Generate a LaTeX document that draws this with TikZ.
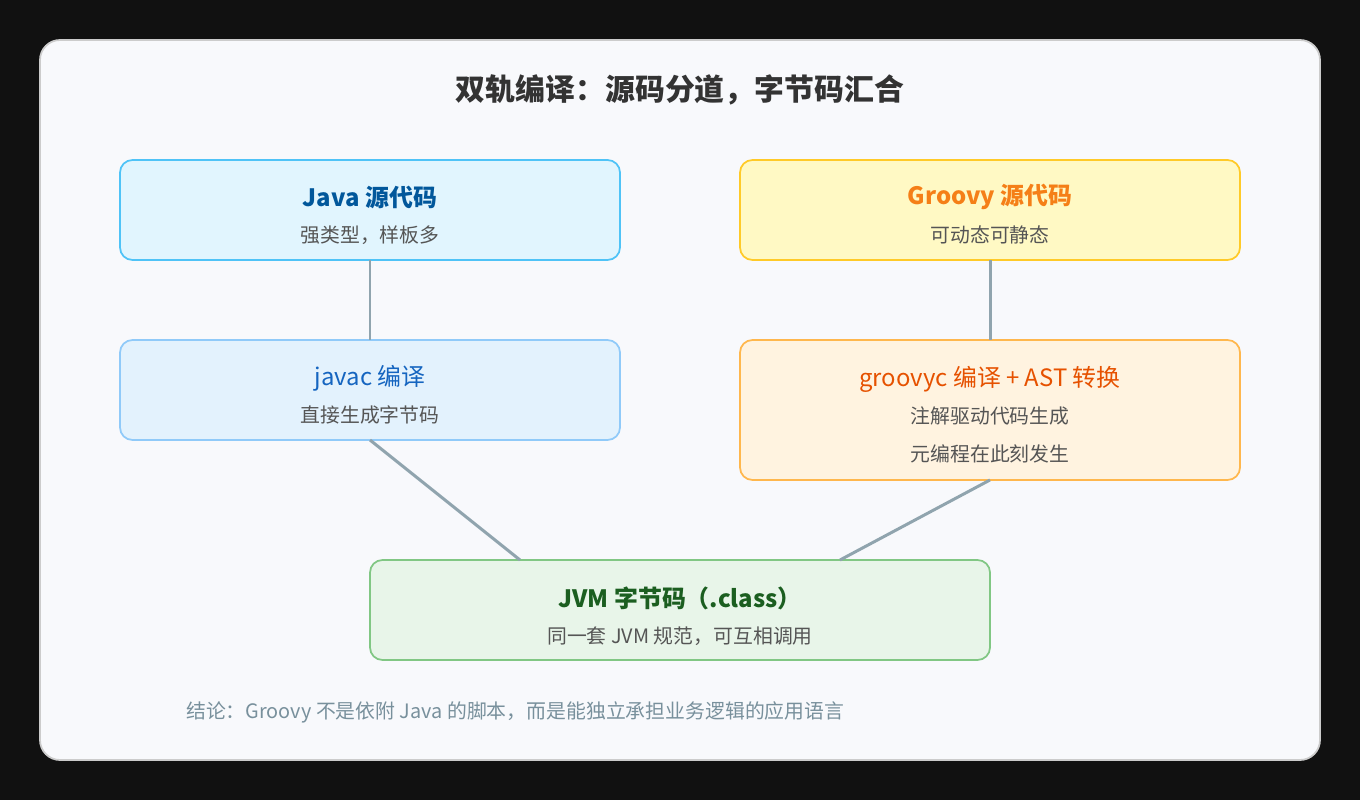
\documentclass[tikz,border=0pt]{standalone}
\usepackage{fontspec}
\setmainfont{Noto Sans CJK SC}
\usetikzlibrary{positioning,calc}

\definecolor{bg}{HTML}{111111}
\definecolor{panel}{HTML}{F8F9FC}
\definecolor{panelline}{HTML}{CCCCCC}
\definecolor{edge}{HTML}{90A4AE}
\definecolor{subtxt}{HTML}{555555}
\definecolor{titletxt}{HTML}{333333}
\definecolor{notetxt}{HTML}{78909C}
\definecolor{javafill}{HTML}{E1F5FE}
\definecolor{javaline}{HTML}{4FC3F7}
\definecolor{javatxt}{HTML}{01579B}
\definecolor{grfill}{HTML}{FFF9C4}
\definecolor{grline}{HTML}{FFCA28}
\definecolor{grtxt}{HTML}{F57F17}
\definecolor{jcfill}{HTML}{E3F2FD}
\definecolor{jcline}{HTML}{90CAF9}
\definecolor{jctxt}{HTML}{1565C0}
\definecolor{gcfill}{HTML}{FFF3E0}
\definecolor{gcline}{HTML}{FFB74D}
\definecolor{gctxt}{HTML}{E65100}
\definecolor{jvmfill}{HTML}{E8F5E9}
\definecolor{jvmline}{HTML}{81C784}
\definecolor{jvmtxt}{HTML}{1B5E20}

\begin{document}
\begin{tikzpicture}[x=0.02cm,y=-0.02cm]
        \tikzstyle{box}=[draw, rounded corners=0.25cm, line width=1pt]
        \tikzstyle{ttl}=[font=\fontsize{13.6}{16}\selectfont]
        \tikzstyle{sub}=[font=\fontsize{11.3}{21.5}\selectfont, text=subtxt, align=center]
        \tikzstyle{link}=[draw=edge, line width=1.7pt]

        \fill[bg] (0,0) rectangle (1360,800);
        \draw[fill=panel, draw=panelline, line width=1pt, rounded corners=0.4cm] (40,40) rectangle (1320,760);

        \node (title) at (680,90) [font=\fontsize{17}{20}\selectfont\bfseries, text=titletxt] {双轨编译：源码分道，字节码汇合};

        \draw[box, fill=javafill, draw=javaline] (120,160) rectangle (620,260);
        \draw[box, fill=grfill, draw=grline] (740,160) rectangle (1240,260);
        \draw[box, fill=jcfill, draw=jcline] (120,340) rectangle (620,440);
        \draw[box, fill=gcfill, draw=gcline] (740,340) rectangle (1240,480);
        \draw[box, fill=jvmfill, draw=jvmline] (370,560) rectangle (990,660);

        \coordinate (java) at (370,260);
        \coordinate (groovy) at (990,260);
        \coordinate (javacT) at (370,340);
        \coordinate (javacB) at (370,440);
        \coordinate (groovycT) at (990,340);
        \coordinate (groovycB) at (990,480);
        \coordinate (jvmL) at (520,560);
        \coordinate (jvmR) at (840,560);

        \node (javaT) at (370,197) [ttl, text=javatxt] {\bfseries Java 源代码};
        \node (javaS) at (370,235) [sub] {强类型，样板多};
        \node (grT) at (990,197) [ttl, text=grtxt] {\bfseries Groovy 源代码};
        \node (grS) at (990,235) [sub] {可动态可静态};
        \node (jcT) at (370,378) [ttl, text=jctxt] {javac 编译};
        \node (jcS) at (370,415) [sub] {直接生成字节码};
        \node (gcT) at (990,379) [ttl, text=gctxt] {groovyc 编译 + AST 转换};
        \node (gcS) at (990,435) [sub] {注解驱动代码生成\\元编程在此刻发生};
        \node (jvmT) at (680,598) [ttl, text=jvmtxt] {\bfseries JVM 字节码（.class）};
        \node (jvmS) at (680,636) [sub] {同一套 JVM 规范，可互相调用};

        \draw[link] (java) -- (javacT);
        \draw[link] (groovy) -- (groovycT);
        \draw[link] (javacB) -- (jvmL);
        \draw[link] (groovycB) -- (jvmR);

        \node (note) at (180,712) [anchor=west, font=\fontsize{11.3}{14}\selectfont, text=notetxt] {结论：Groovy 不是依附 Java 的脚本，而是能独立承担业务逻辑的应用语言};
\end{tikzpicture}
\end{document}
